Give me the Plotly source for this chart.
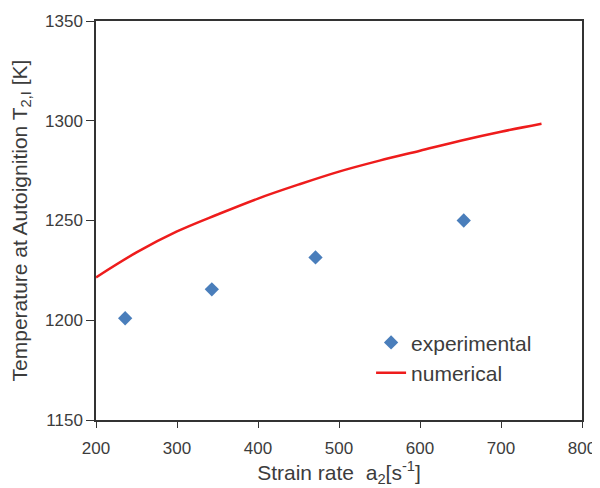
import plotly.graph_objects as go

exp_rate = [236, 343, 471, 654]
exp_temp = [1201, 1215.5, 1231.5, 1250]

num_rate = [200, 250, 300, 350, 400, 450, 500, 550, 600, 650, 700, 750]
num_temp = [1221.5, 1234, 1244.5, 1253, 1261, 1268, 1274.5, 1280, 1285, 1290, 1294.5, 1298.5]

x_ticks = [200, 300, 400, 500, 600, 700, 800]
y_ticks = [1150, 1200, 1250, 1300, 1350]

fig = go.Figure()
fig.add_trace(go.Scatter(x=exp_rate, y=exp_temp, mode="markers", name="experimental",
                         marker=dict(symbol="diamond", size=11, color="#4a7ebb")))
fig.add_trace(go.Scatter(x=num_rate, y=num_temp, mode="lines", name="numerical",
                         line=dict(color="#ee1c1c", width=2.5, shape="spline")))

font_color = "#3c3c3c"
# page body has an 8px default margin, so margins are compensated
fig.update_layout(
    width=600, height=488,
    margin=dict(l=88, r=26, t=13, b=76),
    plot_bgcolor="white", paper_bgcolor="white",
    font=dict(family="Liberation Sans, Arial, sans-serif", size=17, color=font_color),
    legend=dict(x=0.566, y=0.245, xanchor="left", yanchor="top",
                bgcolor="rgba(0,0,0,0)", font=dict(size=21, color=font_color),
                itemwidth=30, tracegroupgap=0),
    showlegend=True,
)
fig.update_xaxes(range=[200, 800], tickvals=x_ticks, ticks="outside", ticklen=6,
                 tickcolor="#333", showline=True, linecolor="#333", linewidth=1.5,
                 mirror=True, showgrid=False, zeroline=False, automargin=False,
                 tickfont=dict(size=17, color=font_color), ticklabelstandoff=6,
                 title=dict(text="Strain rate  a<sub>2</sub>[s<sup>-1</sup>]", standoff=5,
                            font=dict(size=21, color=font_color)))
fig.update_yaxes(range=[1150, 1350], tickvals=y_ticks, ticks="outside", ticklen=8,
                 tickcolor="#333", showline=True, linecolor="#333", linewidth=1.5,
                 mirror=True, showgrid=False, zeroline=False, automargin=False,
                 tickfont=dict(size=17, color=font_color),
                 title=dict(text="Temperature at Autoignition T<sub>2,I</sub> [K]", standoff=15,
                            font=dict(size=21, color=font_color)))

fig.write_html("out.html")
